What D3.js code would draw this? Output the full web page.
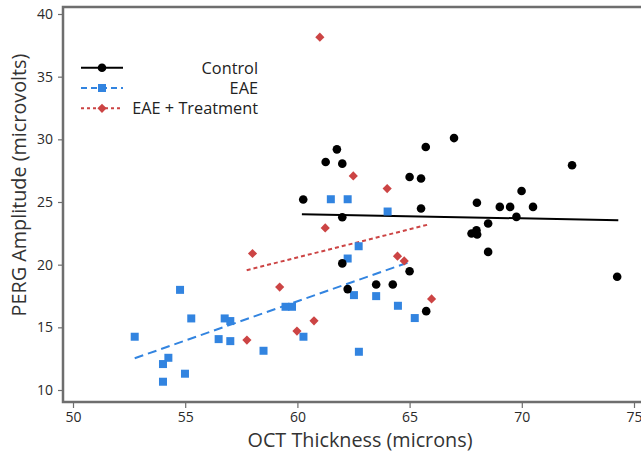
<!DOCTYPE html>
<html>
<head>
<meta charset="utf-8">
<script src="https://cdn.jsdelivr.net/npm/d3@7"></script>
<style>
  html, body { margin: 0; padding: 0; background: #fff; }
  svg { display: block; font-family: "Open Sans", "Noto Sans", sans-serif; }
</style>
</head>
<body>
<svg id="chart" width="641" height="453"></svg>
<script>
// OCT thickness (microns) vs PERG amplitude (microvolts), per group
const controlX = [60.26, 61.26, 61.76, 62.0, 62.0, 62.0, 62.24, 63.51, 64.25, 65.0, 65.51, 65.51, 65.0, 65.72, 65.74,
  66.98, 68.0, 67.76, 67.98, 68.01, 68.5, 68.5, 69.02, 69.48, 69.76, 69.99, 70.5, 72.24, 74.25];
const controlY = [25.2, 28.19, 29.2, 28.06, 23.78, 20.1, 18.05, 18.42, 18.42, 27.0, 26.87, 24.48, 19.48, 29.39, 16.29,
  30.1, 24.94, 22.49, 22.75, 22.41, 23.28, 21.02, 24.61, 24.61, 23.81, 25.88, 24.61, 27.93, 19.03];

const eaeX = [52.75, 54.01, 54.01, 54.25, 54.77, 54.99, 55.27, 56.49, 56.76, 57.01, 57.01, 58.49, 59.47, 59.76, 60.27,
  61.49, 62.24, 62.24, 62.52, 62.73, 62.74, 63.51, 64.02, 64.48, 65.23];
const eaeY = [14.25, 10.66, 12.07, 12.57, 17.99, 11.3, 15.71, 14.06, 15.71, 15.5, 13.9, 13.13, 16.64, 16.64, 14.25,
  25.22, 25.22, 20.49, 17.57, 21.47, 13.05, 17.49, 24.24, 16.72, 15.74];

const treatX = [61.0, 62.49, 64.0, 61.24, 58.0, 59.21, 60.74, 59.98, 57.75, 64.46, 64.76, 65.98];
const treatY = [38.15, 27.08, 26.07, 22.93, 20.89, 18.21, 15.52, 14.7, 13.98, 20.68, 20.3, 17.27];

// Fitted regression line end points [x, y] for each group
const controlFit = [[60.2, 24.02], [74.3, 23.55]];
const eaeFit = [[52.75, 12.53], [65.01, 20.22]];
const treatFit = [[57.74, 19.56], [65.9, 23.23]];

const groupNames = ["Control", "EAE", "EAE + Treatment"];
const xTicks = [50, 55, 60, 65, 70, 75];
const yTicks = [10, 15, 20, 25, 30, 35, 40];
const xTitle = "OCT Thickness (microns)";
const yTitle = "PERG Amplitude (microvolts)";

const colors = { control: "#000000", eae: "#3284e0", treat: "#cc4444" };

const svg = d3.select("#chart");
const frame = { left: 63, right: 648, top: 7, bottom: 402 };

const x = d3.scaleLinear().domain([50, 75]).range([73, 634]);
const y = d3.scaleLinear().domain([10, 40]).range([390, 14]);

// Plot frame
const axisColor = "#6e6e6e";
svg.append("rect")
  .attr("x", frame.left).attr("y", frame.top)
  .attr("width", frame.right - frame.left).attr("height", frame.bottom - frame.top)
  .attr("fill", "none").attr("stroke", axisColor).attr("stroke-width", 2.5);

// Axes
const yAxis = svg.append("g")
  .attr("transform", `translate(${frame.left},0)`)
  .call(d3.axisLeft(y).tickValues(yTicks).tickSize(5).tickPadding(5));
const xAxis = svg.append("g")
  .attr("transform", `translate(0,${frame.bottom})`)
  .call(d3.axisBottom(x).tickValues(xTicks).tickSize(6).tickPadding(4));

[yAxis, xAxis].forEach(g => {
  g.select(".domain").remove();
  g.selectAll(".tick line").attr("stroke", axisColor).attr("stroke-width", 1.2);
  g.selectAll(".tick text").attr("fill", "#2a2a2a").style("font-size", "14px")
    .style("font-family", "'Open Sans', sans-serif");
});

// Axis titles
svg.append("text")
  .attr("x", 360).attr("y", 447)
  .attr("text-anchor", "middle")
  .attr("fill", "#333").style("font-size", "19.8px")
  .text(xTitle);
svg.append("text")
  .attr("transform", "translate(26,185) rotate(-90)")
  .attr("text-anchor", "middle")
  .attr("fill", "#333").style("font-size", "19.8px")
  .text(yTitle);

// Regression lines
const line = d3.line().x(d => x(d[0])).y(d => y(d[1]));
svg.append("path").datum(controlFit).attr("d", line)
  .attr("fill", "none").attr("stroke", colors.control).attr("stroke-width", 2);
svg.append("path").datum(eaeFit).attr("d", line)
  .attr("fill", "none").attr("stroke", colors.eae).attr("stroke-width", 2)
  .attr("stroke-dasharray", "9,5");
svg.append("path").datum(treatFit).attr("d", line)
  .attr("fill", "none").attr("stroke", colors.treat).attr("stroke-width", 2)
  .attr("stroke-dasharray", "4,3");

// Markers
svg.append("g").selectAll("rect")
  .data(d3.zip(eaeX, eaeY)).join("rect")
  .attr("x", d => x(d[0]) - 4).attr("y", d => y(d[1]) - 4)
  .attr("width", 8).attr("height", 8)
  .attr("fill", colors.eae);

svg.append("g").selectAll("path")
  .data(d3.zip(treatX, treatY)).join("path")
  .attr("transform", d => `translate(${x(d[0])},${y(d[1])}) rotate(45)`)
  .attr("d", d3.symbol().type(d3.symbolSquare).size(42))
  .attr("fill", colors.treat);

svg.append("g").selectAll("circle")
  .data(d3.zip(controlX, controlY)).join("circle")
  .attr("cx", d => x(d[0])).attr("cy", d => y(d[1]))
  .attr("r", 4.3)
  .attr("fill", colors.control);

// Legend
const legendRows = [
  { name: groupNames[0], color: colors.control, dash: null, shape: "circle" },
  { name: groupNames[1], color: colors.eae, dash: "6,4", shape: "square" },
  { name: groupNames[2], color: colors.treat, dash: "3,3", shape: "diamond" }
];
const legend = svg.append("g");
legendRows.forEach((r, i) => {
  const cy = 67.7 + i * 20.3;
  const g = legend.append("g");
  g.append("line").attr("x1", 81).attr("x2", 123).attr("y1", cy).attr("y2", cy)
    .attr("stroke", r.color).attr("stroke-width", 2)
    .attr("stroke-dasharray", r.dash);
  if (r.shape === "circle") {
    g.append("circle").attr("cx", 102).attr("cy", cy).attr("r", 4.3).attr("fill", r.color);
  } else if (r.shape === "square") {
    g.append("rect").attr("x", 98).attr("y", cy - 4).attr("width", 8).attr("height", 8).attr("fill", r.color);
  } else {
    g.append("path").attr("transform", `translate(102,${cy}) rotate(45)`)
      .attr("d", d3.symbol().type(d3.symbolSquare).size(42)).attr("fill", r.color);
  }
  g.append("text").attr("x", 258).attr("y", cy + 6)
    .attr("text-anchor", "end").attr("fill", "#222")
    .style("font-size", "16.3px").text(r.name);
});
</script>
</body>
</html>
